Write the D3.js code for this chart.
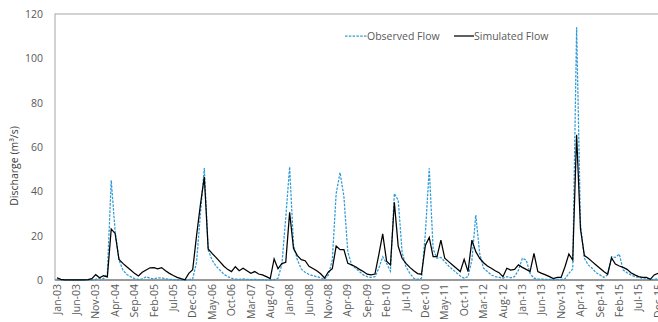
<!DOCTYPE html>
<html>
<head>
<meta charset="utf-8">
<script src="https://cdn.jsdelivr.net/npm/d3@7"></script>
<style>
  html, body { margin: 0; padding: 0; background: #fff; }
  svg { display: block; font-family: "Open Sans", "DejaVu Sans", sans-serif; }
</style>
</head>
<body>
<svg id="chart" width="658" height="322"></svg>
<script>
// ---- DATA ----
const monthNames = ["Jan","Feb","Mar","Apr","May","Jun","Jul","Aug","Sep","Oct","Nov","Dec"];
const years = ["03","04","05","06","07","08","09","10","11","12","13","14","15"];
const categories = [];
years.forEach(y => monthNames.forEach(m => categories.push(m + "-" + y)));

const tickLabels = ["Jan-03","Jun-03","Nov-03","Apr-04","Sep-04","Feb-05","Jul-05","Dec-05",
  "May-06","Oct-06","Mar-07","Aug-07","Jan-08","Jun-08","Nov-08","Apr-09","Sep-09","Feb-10",
  "Jul-10","Dec-10","May-11","Oct-11","Mar-12","Aug-12","Jan-13","Jun-13","Nov-13","Apr-14",
  "Sep-14","Feb-15","Jul-15","Dec-15"];

const yTicks = [0, 20, 40, 60, 80, 100, 120];

const observedFlow = [
  0.5,0.1,0.1,0.1,0.1,0.1,0.1,0.1,0.1,0.1,0.3,0.8,
  0.5,3,45,22,9,4.5,2.5,1.5,0.6,0.3,0.5,1.5,
  0.8,0.5,1.0,1.0,0.5,0.3,0.2,0.2,0.1,0.1,0.2,0.5,
  8,30,50.5,13.5,9,6.3,4.5,2.7,1.5,0.8,0.4,0.3,
  0.5,0.3,0.2,0.3,0.2,0.2,0.1,0.1,0.2,0.8,7,28,
  51,16,9,5,3.5,2.5,2,1.5,1,0.3,2.3,9,
  39,48.5,37.6,12.6,6.8,5.3,3.8,2.3,1.5,1.2,1.5,5.3,
  10.5,7.5,4,39,36,12.6,6,3,0.8,0.3,0.8,21,
  50.4,14,9.8,10.2,8.3,6.3,4.8,3.3,1.8,0.8,1.5,9,
  29.3,12,5.3,3.8,2.3,1.5,1.2,0.8,1.5,1.0,1.5,4.5,
  9.8,9,2.9,0.8,0.5,0.4,0.3,0.3,0.2,0.3,0.3,0.5,
  3,5,114,25,9.8,6.8,5.3,3.3,2.3,1.2,2.3,10.5,
  10.2,11.7,4.5,3.3,2.3,1.5,1.2,0.8,0.8,0.3,0.3,0.5
];

const simulatedFlow = [
  1.0,0.3,0.1,0.1,0.1,0.1,0.1,0.1,0.2,0.6,2.4,1.0,
  1.9,1.4,23,21,9.3,7.5,6,4.5,3,1.8,3.5,4.5,
  5.5,5.6,5.0,5.6,4.2,3.0,2.0,1.2,0.6,0.1,3.0,4.6,
  20,34,46.5,14,12,10.2,8.3,6.3,4.8,3.8,6.0,4.2,
  5.3,4.2,3.0,3.8,2.7,2.3,1.5,0.6,9.5,5.1,7.4,8.0,
  30.5,14.2,11,9.2,8.7,6.2,5.2,4.2,2.8,0.9,3.6,5.1,
  15.3,13.7,13.7,7.5,6.8,6.0,4.8,3.8,2.6,2.3,2.7,11.5,
  20.8,8.5,6.8,35,15.2,9.8,7.5,5.7,4.2,2.9,2.6,15.6,
  19.2,10.5,10.5,18,9.8,8.3,6.8,5.3,3.8,9.3,3.8,18,
  12.8,9.8,7.8,6.3,5.3,4.2,3.3,1.5,5.3,4.5,4.8,6.8,
  5.7,4.8,3.8,12,3.8,3.0,2.3,1.5,0.6,1.2,1.2,6,
  11.7,9,65.5,23,11,9.8,8.3,6.8,5.3,3.8,2.6,10,
  7.2,6.3,5.7,4.8,3.3,2.3,1.5,1.2,1.2,0.3,2.3,3.0
];

// ---- LAYOUT ----
const svg = d3.select("#chart");
const plot = { left: 55, top: 14, right: 660, bottom: 280 };

const x = d3.scaleBand().domain(categories).range([plot.left, plot.right]).padding(0);
const y = d3.scaleLinear().domain([0, 120]).range([plot.bottom, plot.top]);
const cx = c => x(c) + x.bandwidth() / 2;

// plot border
svg.append("rect")
  .attr("x", plot.left).attr("y", plot.top)
  .attr("width", plot.right - plot.left).attr("height", plot.bottom - plot.top)
  .attr("fill", "none").attr("stroke", "#a6a6a6").attr("stroke-width", 1);

// Y axis
const yAxis = svg.append("g")
  .attr("transform", `translate(${plot.left},0)`)
  .call(d3.axisLeft(y).tickValues(yTicks).tickSize(0).tickPadding(12));
yAxis.select(".domain").remove();
yAxis.selectAll("text").attr("fill", "#595959").attr("font-size", "10.5px")
  .attr("font-family", "'Open Sans', sans-serif");

// X axis
const xAxis = svg.append("g")
  .attr("transform", `translate(0,${plot.bottom})`)
  .call(d3.axisBottom(x).tickValues(tickLabels).tickSize(0));
xAxis.select(".domain").remove();
xAxis.selectAll("text")
  .attr("fill", "#595959").attr("font-size", "10.5px")
  .attr("font-family", "'Open Sans', sans-serif")
  .attr("text-anchor", "end")
  .attr("transform", "rotate(-90)")
  .attr("x", -4).attr("y", 0).attr("dy", "0.35em");

// bottom axis line
svg.append("line")
  .attr("x1", plot.left).attr("x2", plot.right)
  .attr("y1", plot.bottom).attr("y2", plot.bottom)
  .attr("stroke", "#868686").attr("stroke-width", 1.5);

// Y title
svg.append("text")
  .attr("transform", "translate(18,166) rotate(-90)")
  .attr("text-anchor", "middle")
  .attr("fill", "#404040").attr("font-size", "10.5px")
  .text("Discharge (m³/s)");

// lines
const line = d3.line().x((d, i) => cx(categories[i])).y(d => y(d));

svg.append("path").datum(observedFlow)
  .attr("d", line).attr("fill", "none")
  .attr("stroke", "#2e9bd6").attr("stroke-width", 1.25)
  .attr("stroke-dasharray", "2.5,1.3");

svg.append("path").datum(simulatedFlow)
  .attr("d", line).attr("fill", "none")
  .attr("stroke", "#000").attr("stroke-width", 1.25);

// legend
const lg = svg.append("g").attr("font-size", "10.5px").attr("fill", "#595959");
lg.append("line").attr("x1", 345).attr("x2", 367).attr("y1", 36).attr("y2", 36)
  .attr("stroke", "#2e9bd6").attr("stroke-width", 1.25).attr("stroke-dasharray", "2.5,1.3");
lg.append("text").attr("x", 367).attr("y", 36).attr("dy", "0.35em").attr("fill", "#595959").text("Observed Flow");
lg.append("line").attr("x1", 454).attr("x2", 474).attr("y1", 36).attr("y2", 36)
  .attr("stroke", "#000").attr("stroke-width", 1.25);
lg.append("text").attr("x", 474).attr("y", 36).attr("dy", "0.35em").attr("fill", "#595959").text("Simulated Flow");
</script>
</body>
</html>
